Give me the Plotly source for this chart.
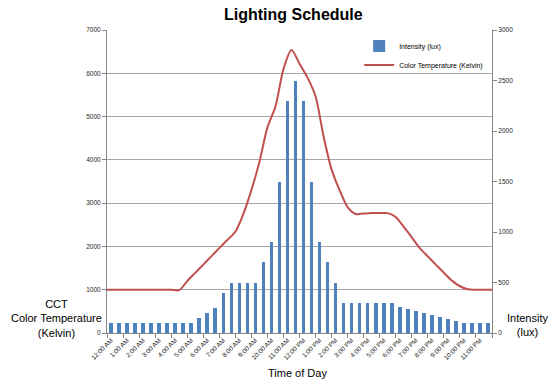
import plotly.graph_objects as go

# Category labels (every other half-hour slot is labelled)
hour_labels = ["12:00 AM", "1:00 AM", "2:00 AM", "3:00 AM", "4:00 AM", "5:00 AM",
               "6:00 AM", "7:00 AM", "8:00 AM", "9:00 AM", "10:00 AM", "11:00 AM",
               "12:00 PM", "1:00 PM", "2:00 PM", "3:00 PM", "4:00 PM", "5:00 PM",
               "6:00 PM", "7:00 PM", "8:00 PM", "9:00 PM", "10:00 PM", "11:00 PM"]

# Intensity (lux), 48 half-hour slots starting 12:00 AM
intensity_lux = [100, 100, 100, 100, 100, 100, 100, 100, 100, 100, 100,
                 150, 200, 250, 400, 500, 500, 500, 500, 700, 900, 1500,
                 2300, 2500, 2300, 1500, 900, 700, 500,
                 300, 300, 300, 300, 300, 300, 300,
                 260, 240, 220, 200, 180, 160, 140, 120,
                 100, 100, 100, 100]

# Color temperature (Kelvin), 49 half-hour boundaries 12:00 AM .. 12:00 AM
cct_kelvin = [1000, 1000, 1000, 1000, 1000, 1000, 1000, 1000, 1000, 990,
              1200, 1390, 1580, 1770, 1960, 2150, 2340, 2750, 3300, 3950,
              4750, 5230, 6100, 6540, 6220, 5900, 5470, 4545, 3780, 3300,
              2910, 2750, 2760, 2770, 2770, 2770, 2680, 2450, 2210, 1960,
              1770, 1580, 1390, 1210, 1080, 1010, 1000, 1000, 1000]

FONT = "Liberation Sans, Arial, sans-serif"
TEXT_COLOR = "#000000"
TICK_TEXT = "#262626"
AXIS_COLOR = "#868686"
GRID_COLOR = "#A6A6A6"

n_slots = len(intensity_lux)
slot_x = list(range(n_slots))
boundary_x = [j - 0.5 for j in range(len(cct_kelvin))]

fig = go.Figure()
fig.add_trace(go.Bar(
    x=slot_x, y=intensity_lux, name="Intensity (lux)",
    marker=dict(color="#4F81BD", line=dict(width=0)), width=0.45, yaxis="y2"))
fig.add_trace(go.Scatter(
    x=boundary_x, y=cct_kelvin, name="Color Temperature (Kelvin)", mode="lines",
    line=dict(color="#C0504D", width=2, shape="spline", smoothing=0.8)))

tick_font = dict(size=6.5, family=FONT, color=TICK_TEXT)

fig.update_layout(
    width=557, height=392, autosize=False,
    margin=dict(l=107, r=65, t=30, b=59),
    paper_bgcolor="white", plot_bgcolor="white",
    font=dict(family=FONT, color=TEXT_COLOR),
    showlegend=True,
    legend=dict(x=0.655, y=0.995, xanchor="left", yanchor="top",
                bgcolor="rgba(0,0,0,0)",
                font=dict(size=7, family=FONT, color=TEXT_COLOR),
                itemwidth=30, tracegroupgap=0),
    bargap=0,
    xaxis=dict(range=[-0.5, n_slots - 0.5], tickmode="array",
               tickvals=[2 * k for k in range(len(hour_labels))],
               ticktext=hour_labels, tickangle=-45, ticks="",
               tickfont=tick_font,
               showline=True, linecolor=AXIS_COLOR, linewidth=1,
               showgrid=False, zeroline=False,
               minor=dict(tickmode="array",
                          tickvals=[-0.5 + 2 * k for k in range(len(hour_labels) + 1)],
                          ticks="outside", ticklen=4, tickcolor=AXIS_COLOR,
                          showgrid=False)),
    yaxis=dict(range=[0, 7000], dtick=1000, tickformat="d",
               showgrid=True, gridcolor=GRID_COLOR, gridwidth=1,
               showline=True, linecolor=AXIS_COLOR, linewidth=1,
               ticks="outside", ticklen=4, tickcolor=AXIS_COLOR,
               tickfont=tick_font, zeroline=False),
    yaxis2=dict(range=[0, 3000], dtick=500, tickformat="d", overlaying="y",
                side="right", showgrid=False,
                showline=True, linecolor=AXIS_COLOR, linewidth=1,
                ticks="outside", ticklen=4, tickcolor=AXIS_COLOR,
                tickfont=tick_font, zeroline=False),
    annotations=[
        dict(text="<b>Lighting Schedule</b>", xref="paper", yref="paper",
             x=0.484, y=1.0 + 15 / 303, xanchor="center", yanchor="middle",
             showarrow=False, font=dict(size=16, family=FONT, color=TEXT_COLOR)),
        dict(text="Time of Day", xref="paper", yref="paper",
             x=0.494, y=-40 / 303, xanchor="center", yanchor="middle",
             showarrow=False, font=dict(size=11, family=FONT, color=TEXT_COLOR)),
        dict(text="CCT<br>Color Temperature<br>(Kelvin)", xref="paper", yref="paper",
             x=-(107 - 56) / 385, y=(333 - 318) / 303, xanchor="center", yanchor="middle",
             showarrow=False, font=dict(size=11, family=FONT, color=TEXT_COLOR)),
        dict(text="Intensity<br>(lux)", xref="paper", yref="paper",
             x=1 + (527 - 492) / 385, y=(333 - 324.5) / 303, xanchor="center",
             yanchor="middle", showarrow=False,
             font=dict(size=11, family=FONT, color=TEXT_COLOR)),
    ],
)

fig.write_html(
    "out.html",
    config={"displayModeBar": False},
    post_script="document.body.style.margin='0px';document.body.style.overflow='hidden';",
)
